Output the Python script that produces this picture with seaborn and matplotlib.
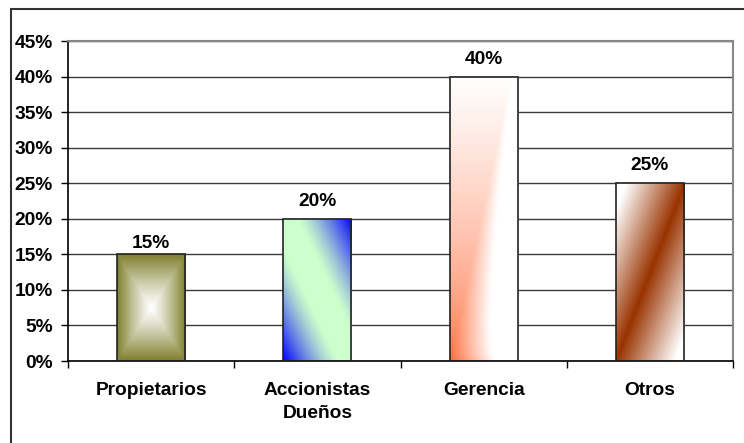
import numpy as np
import pandas as pd
import matplotlib
matplotlib.use("Agg")
import matplotlib.pyplot as plt
import seaborn as sns
from matplotlib.colors import to_rgb
from matplotlib.patches import Rectangle
from matplotlib.ticker import FixedLocator, PercentFormatter

# Survey shares by group
categories = ["Propietarios", "Accionistas\nDueños", "Gerencia", "Otros"]
shares = [0.15, 0.20, 0.40, 0.25]
y_ticks = [0.00, 0.05, 0.10, 0.15, 0.20, 0.25, 0.30, 0.35, 0.40, 0.45]

# Gradient fill colours for each bar: (inner / start colour, outer / end colour)
fill_pairs = [
    ("#ffffff", "#7f7f2c"),   # rectangular, white centre -> olive edges
    ("#ccffcc", "#0000ff"),   # diagonal, green band -> blue corners
    ("#ff6633", "#ffffff"),   # orange corner fading to white
    ("#993300", "#ffffff"),   # diagonal brown band -> white corners
]
# Vertical gap (points) between each bar top and its value label
label_gaps = [1.5, 6.5, 6.5, 6.5]

sns.set_theme(style="white")
plt.rcParams["font.family"] = ["Liberation Sans", "DejaVu Sans"]
plt.rcParams["font.weight"] = "bold"

FS = 13.8
W, H = 744, 443
fig = plt.figure(figsize=(W / 100, H / 100), dpi=100)
ax = fig.add_axes([68 / W, 1 - 361 / H, (733 - 68) / W, (361 - 41) / H])

df = pd.DataFrame({"categoria": categories, "porcentaje": shares})
sns.barplot(data=df, x="categoria", y="porcentaje", ax=ax, width=0.41,
            color="white", saturation=1, edgecolor="#222222", linewidth=1.2,
            zorder=3)


def rect_center(u, v):
    return np.maximum(np.abs(2 * u - 1), np.abs(2 * v - 1)) ** 1.2


def diag_bands(u, v):
    s = np.abs(u + v - 1)
    return np.clip((s - 0.2) / 0.8, 0, 1) ** 1.3


def corner_fade(u, v):
    return np.clip(v ** 0.6 + 1.5 * np.maximum(u - 0.9 * v, 0), 0, 1)


def diag_stripe(u, v):
    return np.clip(np.abs(u - v) / 0.85, 0, 1)


shapes = [rect_center, diag_bands, corner_fade, diag_stripe]

n = 200
uu, vv = np.meshgrid(np.linspace(0, 1, n), np.linspace(0, 1, n))
for patch, (c0, c1), shape in zip(ax.patches, fill_pairs, shapes):
    x0, y0 = patch.get_x(), patch.get_y()
    w, h = patch.get_width(), patch.get_height()
    t = shape(uu, vv)[..., None]
    a, b = np.array(to_rgb(c0)), np.array(to_rgb(c1))
    img = a + (b - a) * t
    im = ax.imshow(img, extent=(x0, x0 + w, y0, y0 + h), origin="lower",
                   aspect="auto", interpolation="bilinear", zorder=2.5)
    im.set_clip_path(patch)
    patch.set_facecolor("none")

for patch, val, gap in zip(ax.patches, shares, label_gaps):
    ax.annotate(f"{val:.0%}", (patch.get_x() + patch.get_width() / 2, val),
                xytext=(0, gap), textcoords="offset points", ha="center",
                va="bottom", fontsize=FS, fontweight="bold", color="black")

ax.set_xlim(-0.5, 3.5)
ax.set_ylim(0, 0.45)
ax.yaxis.set_major_locator(FixedLocator(y_ticks))
ax.yaxis.set_major_formatter(PercentFormatter(1.0, decimals=0))
ax.xaxis.set_minor_locator(FixedLocator([-0.5, 0.5, 1.5, 2.5, 3.5]))
ax.set_xlabel("")
ax.set_ylabel("")

ax.tick_params(axis="y", which="major", direction="out", length=5, width=1,
               color="black", pad=6, labelsize=FS, left=True)
ax.tick_params(axis="x", which="major", length=0, pad=15, labelsize=FS)
ax.tick_params(axis="x", which="minor", direction="out", length=5, width=1,
               color="black", bottom=True)
for lab in ax.get_xticklabels() + ax.get_yticklabels():
    lab.set_fontweight("bold")
    lab.set_color("black")
    lab.set_linespacing(1.5)

ax.set_axisbelow(True)
ax.yaxis.grid(True, color="#3a3a3a", linewidth=1)
ax.xaxis.grid(False)
for side in ("left", "bottom"):
    ax.spines[side].set_color("black")
    ax.spines[side].set_linewidth(1.2)
for side in ("top", "right"):
    ax.spines[side].set_color("#888888")
    ax.spines[side].set_linewidth(1.5)

# Chart-area frame
fig.add_artist(Rectangle((11 / W, -0.1), 1.0, 1 - 9 / H + 0.1,
                         transform=fig.transFigure, fill=False,
                         edgecolor="#333333", linewidth=1.5))

fig.savefig("out.png", dpi=100)
